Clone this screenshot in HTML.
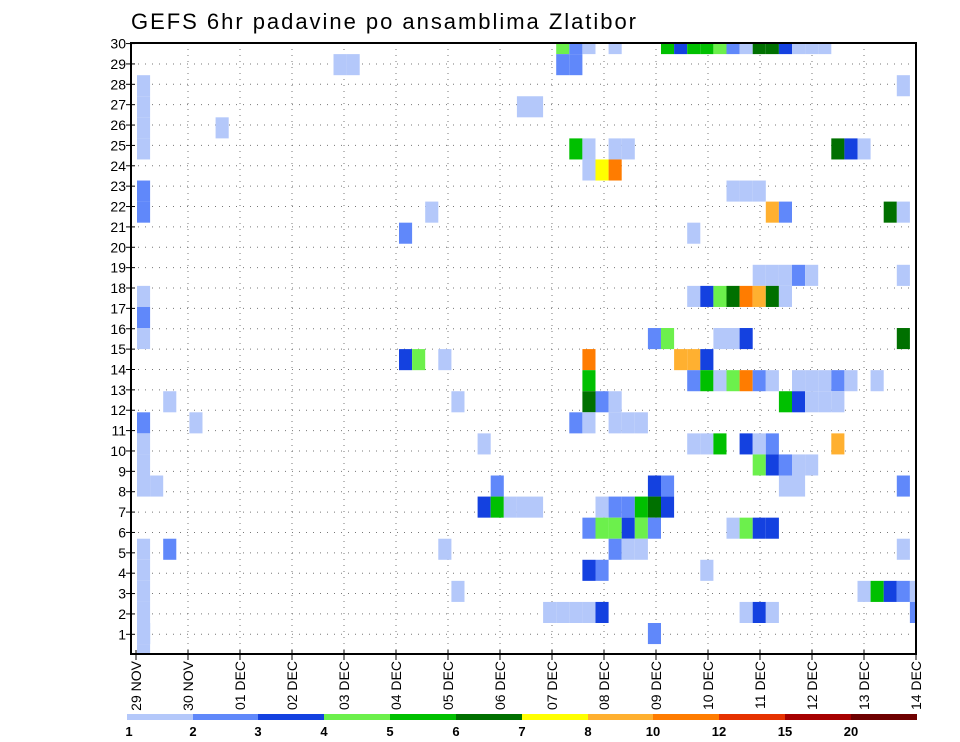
<!DOCTYPE html>
<html><head><meta charset="utf-8"><style>
html,body{margin:0;padding:0;background:#fff;}
svg{display:block;font-family:"Liberation Sans",sans-serif;}
</style></head><body>
<svg id="chart" width="960" height="742" viewBox="0 0 960 742" xmlns="http://www.w3.org/2000/svg">
<text x="131" y="29" font-size="22" textLength="505" fill="#000">GEFS 6hr padavine po ansamblima Zlatibor</text>
<defs><clipPath id="plotclip"><rect x="131" y="43" width="785" height="611"/></clipPath></defs>
<g id="grid"></g>
<g id="cells" clip-path="url(#plotclip)"></g>
<rect x="131" y="43" width="785" height="611" fill="none" stroke="#000" stroke-width="2"/>
<g id="axes"></g>
<g id="legend"></g>
</svg>
<script>
const levelColors = ["#b4c8fa","#6088fa","#1441e0","#6cf04c","#00c000","#007000","#ffff00","#ffb030","#ff7c00","#e63200","#a60000","#6e0000"];
const legendLabels = ["1","2","3","4","5","6","7","8","10","12","15","20"];
const yTickLabels = ["1","2","3","4","5","6","7","8","9","10","11","12","13","14","15","16","17","18","19","20","21","22","23","24","25","26","27","28","29","30"];
const xDayLabels = ["29 NOV","30 NOV","01 DEC","02 DEC","03 DEC","04 DEC","05 DEC","06 DEC","07 DEC","08 DEC","09 DEC","10 DEC","11 DEC","12 DEC","13 DEC","14 DEC"];
// cells: [time-step column, member row, precip level]
const cellCol = [0,0,0,0,0,0,0,0,0,0,0,0,0,0,0,0,0,0,0,0,0,1,2,2,4,6,15,16,20,20,21,22,23,23,24,24,26,26,27,27,28,29,30,29,30,31,32,33,34,32,32,33,33,33,33,34,34,34,34,34,34,34,34,34,35,35,35,35,35,35,36,36,36,36,36,36,36,36,37,37,37,37,37,38,38,38,38,39,39,39,39,39,40,40,40,40,41,41,42,42,42,42,42,42,43,43,43,43,43,43,44,44,44,44,44,45,45,45,45,45,45,46,46,46,46,46,46,46,46,47,47,47,47,47,47,47,47,47,48,48,48,48,48,48,48,48,48,49,49,49,49,49,49,49,50,50,50,50,50,50,51,51,51,51,51,52,52,52,53,53,53,53,54,54,55,55,56,56,57,57,58,58,58,58,58,58,58,59,59];
const cellRow = [24,25,26,27,21,22,17,16,15,11,8,9,10,0,1,2,3,4,5,1,1,8,12,5,11,25,28,28,20,14,14,21,14,5,12,3,10,7,8,7,7,7,7,26,26,2,2,2,2,29,28,29,28,24,11,29,24,23,14,13,12,11,6,4,23,12,7,6,4,2,29,24,23,12,11,7,6,5,24,11,7,6,5,11,7,6,5,15,8,7,6,1,29,15,8,7,29,14,29,20,17,14,13,10,29,17,14,13,10,4,29,17,15,13,10,29,22,17,15,13,6,29,22,17,15,13,10,6,2,29,22,18,17,13,10,9,6,2,29,21,18,17,13,10,9,6,2,29,21,18,17,12,9,8,29,18,13,12,9,8,29,18,13,12,9,29,13,12,24,13,12,10,24,13,24,3,13,3,21,3,27,21,18,15,8,5,3,3,2];
const cellLevel = [1,1,1,1,2,2,1,2,1,2,1,1,1,1,1,1,1,1,1,1,1,1,1,2,1,1,1,1,2,3,4,1,1,1,1,1,1,3,2,5,1,1,1,1,1,1,1,1,1,4,2,2,2,5,2,1,1,1,9,5,6,1,2,3,7,2,1,4,2,3,1,1,9,1,1,2,4,2,1,1,2,3,1,1,5,4,1,2,3,6,2,2,5,4,2,3,3,8,5,1,1,8,2,1,5,3,3,5,1,1,4,4,1,1,5,2,1,6,1,4,1,1,1,9,3,9,3,4,1,6,1,1,8,2,1,4,3,3,6,8,1,6,1,2,3,3,1,3,2,1,1,5,2,1,1,2,1,3,1,1,1,1,1,1,1,1,1,1,6,2,1,8,3,1,1,1,1,5,6,3,1,1,1,6,2,1,2,1,2];

const NS="http://www.w3.org/2000/svg";
const plotL=131, plotR=916, plotT=43, plotB=654;
function xDay(d){return 136+d*52;}
function xStep(c){return 137+c*13.1;}
function yCellTop(k){return 644.07-k*21.07;}
function yRow(r){return 634.3-(r-1)*20.37;}
function mk(tag,attrs,parent){const e=document.createElementNS(NS,tag);for(const k in attrs)e.setAttribute(k,attrs[k]);parent.appendChild(e);return e;}

const grid=document.getElementById('grid');
for(let d=1; d<xDayLabels.length-1; d++){
  const l=mk('line',{x1:xDay(d),x2:xDay(d),y1:plotT,y2:plotB,stroke:'#777','stroke-width':1,'stroke-dasharray':'1,5'},grid);
  
  
}
for(let i=0;i<yTickLabels.length-1;i++){
  const y=yRow(i+1);
  const l=mk('line',{x1:plotL,x2:plotR,y1:y,y2:y,stroke:'#777','stroke-width':1,'stroke-dasharray':'1,6'},grid);
  
  
}

const cells=document.getElementById('cells');
for(let i=0;i<cellCol.length;i++){
  const r=mk('rect',{x:xStep(cellCol[i]),y:yCellTop(cellRow[i]),width:13.1,height:21.07,fill:levelColors[cellLevel[i]-1]},cells);
  
  
}

const axes=document.getElementById('axes');
for(let i=0;i<yTickLabels.length;i++){
  const y=yRow(i+1);
  const t=mk('line',{x1:126,x2:135,y1:y,y2:y,stroke:'#000','stroke-width':1},axes);
  
  
  const tx=mk('text',{x:126,y:y+5,'font-size':14,'text-anchor':'end',fill:'#000'},axes);
  tx.textContent=yTickLabels[i];
  
  
}
for(let d=0; d<xDayLabels.length; d++){
  const x=xDay(d);
  const t=mk('line',{x1:x,x2:x,y1:plotB-4,y2:plotB+6,stroke:'#000','stroke-width':1},axes);
  
  
  const tx=mk('text',{x:0,y:0,'font-size':14,'text-anchor':'end',fill:'#000',transform:`translate(${x+5},${plotB+7}) rotate(-90)`},axes);
  tx.textContent=xDayLabels[d];
  
  
}

const legend=document.getElementById('legend');
const legX=[127,193,258,324,390,456,522,588,653,719,785,851,917];
for(let i=0;i<levelColors.length;i++){
  const r=mk('rect',{x:legX[i],y:714,width:legX[i+1]-legX[i],height:6,fill:levelColors[i]},legend);
  
  
  const tx=mk('text',{x:legX[i]+(i===0?2:0),y:736,'font-size':13,'font-weight':'bold','text-anchor':'middle',fill:'#000'},legend);
  tx.textContent=legendLabels[i];
  
  
}
</script>
</body></html>
